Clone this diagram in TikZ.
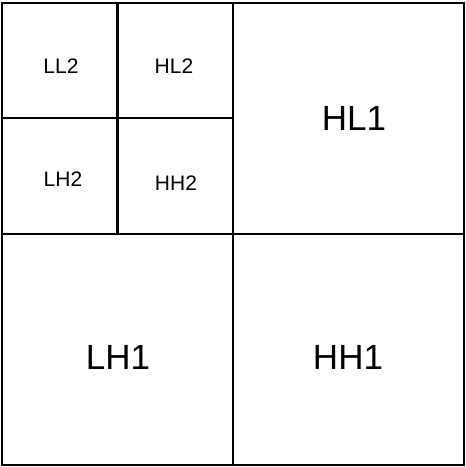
\documentclass[tikz,border=0pt]{standalone}
\usepackage{fontspec}
\setmainfont{Liberation Sans}
\begin{document}
\begin{tikzpicture}[x=1pt,y=-1pt,
  edge/.style={line width=2.3pt,black},
  small/.style={font=\fontsize{21}{21}\selectfont,inner sep=0pt},
  big/.style={font=\fontsize{35}{35}\selectfont,inner sep=0pt}]
\useasboundingbox (0,0) rectangle (466,467);
\coordinate (tl) at (2,3);
\coordinate (br) at (464,465);
\draw[edge] (tl) rectangle (br);
\coordinate (mt) at (233,3);
\coordinate (mb) at (233,465);
\coordinate (ml) at (2,234);
\coordinate (mr) at (464,234);
\draw[edge] (mt) -- (mb);
\draw[edge] (ml) -- (mr);
\coordinate (it) at (117.5,3);
\coordinate (ib) at (117.5,234);
\coordinate (il) at (2,118);
\coordinate (ir) at (233,118);
\draw[edge] (it) -- (ib);
\draw[edge] (il) -- (ir);
\node[small] (ll2) at (61,66) {LL2};
\node[small] (hl2) at (174,66) {HL2};
\node[small] (lh2) at (63,179) {LH2};
\node[small] (hh2) at (176,183) {HH2};
\node[big] (hl1) at (354,118) {HL1};
\node[big] (lh1) at (118,357) {LH1};
\node[big] (hh1) at (348,357) {HH1};
\end{tikzpicture}
\end{document}
